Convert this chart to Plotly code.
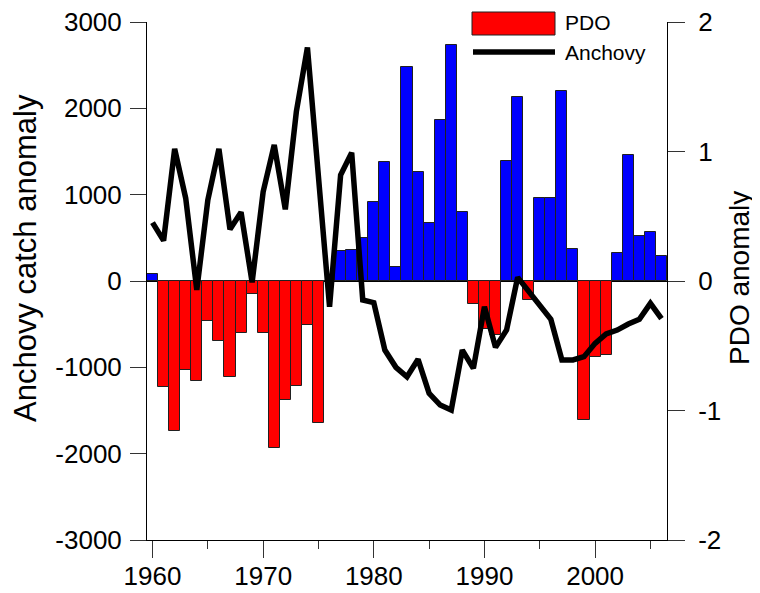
import plotly.graph_objects as go

years = list(range(1960, 2007))
pdo = [0.055, -0.82, -1.16, -0.69, -0.77, -0.31, -0.46, -0.74, -0.40, -0.10,
       -0.40, -1.29, -0.92, -0.81, -0.34, -1.10, 0.0, 0.23, 0.24, 0.33,
       0.61, 0.92, 0.11, 1.65, 0.84, 0.45, 1.24, 1.82, 0.53, -0.18,
       -0.37, -0.42, 0.93, 1.42, -0.15, 0.64, 0.64, 1.47, 0.25, -1.07,
       -0.59, -0.57, 0.22, 0.97, 0.35, 0.38, 0.19]
anchovy = [676, 467, 1530, 958, -104, 939, 1530, 599, 796, -15,
           1035, 1576, 830, 1962, 2704, 1150, -298, 1228, 1487, -220,
           -251, -800, -1000, -1109, -907, -1302, -1437, -1495, -800, -1012,
           -298, -769, -568, 42, -124, -298, -444, -915, -915, -877,
           -722, -614, -568, -498, -444, -259, -437]
x_ticks = [1960, 1970, 1980, 1990, 2000]
left_ticks = [-3000, -2000, -1000, 0, 1000, 2000, 3000]
right_ticks = [-2, -1, 0, 1, 2]

bar_colors = ["#0000FF" if v > 0 else "#FF0000" for v in pdo]

FONT = "Liberation Sans, Arial"
TICKFONT = dict(family=FONT, size=26, color="black")

fig = go.Figure()
fig.add_trace(go.Bar(x=years, y=pdo, yaxis="y", name="PDO",
                     marker=dict(color=bar_colors, line=dict(color="#202020", width=1)),
                     width=1.0))
fig.add_trace(go.Scatter(x=years, y=anchovy, yaxis="y2", name="Anchovy",
                         mode="lines", line=dict(color="black", width=5.5)))

# page body has an 8px margin, so the figure is sized to fit inside the window
fig.update_layout(
    width=752, height=585,
    margin=dict(l=139, r=93, t=14, b=53),
    paper_bgcolor="white", plot_bgcolor="white",
    showlegend=False, bargap=0,
    xaxis=dict(range=[1959.5, 2006.5], tickmode="array", tickvals=x_ticks,
               ticktext=[str(v) for v in x_ticks],
               ticks="outside", ticklen=17, tickwidth=1, tickcolor="#333",
               showline=True, linecolor="black", linewidth=1, automargin=False,
               ticklabelstandoff=-4, ticklabeloverflow="allow",
               showgrid=False, zeroline=False, tickfont=TICKFONT,
               minor=dict(dtick=5, tick0=1960, ticks="outside", ticklen=8,
                          tickcolor="#333", showgrid=False)),
    yaxis=dict(range=[-2, 2], side="right", tickmode="array", tickvals=right_ticks,
               ticktext=[str(v) for v in right_ticks],
               ticks="outside", ticklen=17, tickcolor="#333",
               showline=True, linecolor="black", linewidth=1, automargin=False,
               ticklabelstandoff=8, ticklabeloverflow="allow",
               showgrid=False, zeroline=True, zerolinecolor="black", zerolinewidth=1,
               tickfont=TICKFONT),
    yaxis2=dict(range=[-3000, 3000], side="left", overlaying="y",
                tickmode="array", tickvals=left_ticks,
                ticktext=[str(v) for v in left_ticks],
                ticks="outside", ticklen=16, tickcolor="#333",
                showline=True, linecolor="black", linewidth=1, automargin=False,
                ticklabelstandoff=3, ticklabeloverflow="allow",
                showgrid=False, zeroline=False, tickfont=TICKFONT),
)

def px_x(p):
    return (p - 147) / 520.0

def px_y(p):
    return (540 - p) / 518.0

# axis titles
fig.add_annotation(xref="paper", yref="paper", x=px_x(25), y=px_y(258),
                   xanchor="center", yanchor="middle", showarrow=False, textangle=-90,
                   text="Anchovy catch anomaly", font=dict(family=FONT, size=31, color="black"))
fig.add_annotation(xref="paper", yref="paper", x=px_x(739), y=px_y(278),
                   xanchor="center", yanchor="middle", showarrow=False, textangle=-90,
                   text="PDO anomaly", font=dict(family=FONT, size=28, color="black"))

# custom legend
fig.add_shape(type="rect", xref="paper", yref="paper",
              x0=px_x(472), x1=px_x(555), y0=px_y(35), y1=px_y(12),
              fillcolor="#FF0000", line=dict(color="#202020", width=1))
fig.add_shape(type="line", xref="paper", yref="paper",
              x0=px_x(473), x1=px_x(555), y0=px_y(52), y1=px_y(52),
              line=dict(color="black", width=5.5))
fig.add_annotation(xref="paper", yref="paper", x=px_x(563), y=px_y(23),
                   xanchor="left", yanchor="middle", showarrow=False,
                   text="PDO", font=dict(family=FONT, size=21, color="black"))
fig.add_annotation(xref="paper", yref="paper", x=px_x(563), y=px_y(52),
                   xanchor="left", yanchor="middle", showarrow=False,
                   text="Anchovy", font=dict(family=FONT, size=21, color="black"))

fig.write_html("out.html")
